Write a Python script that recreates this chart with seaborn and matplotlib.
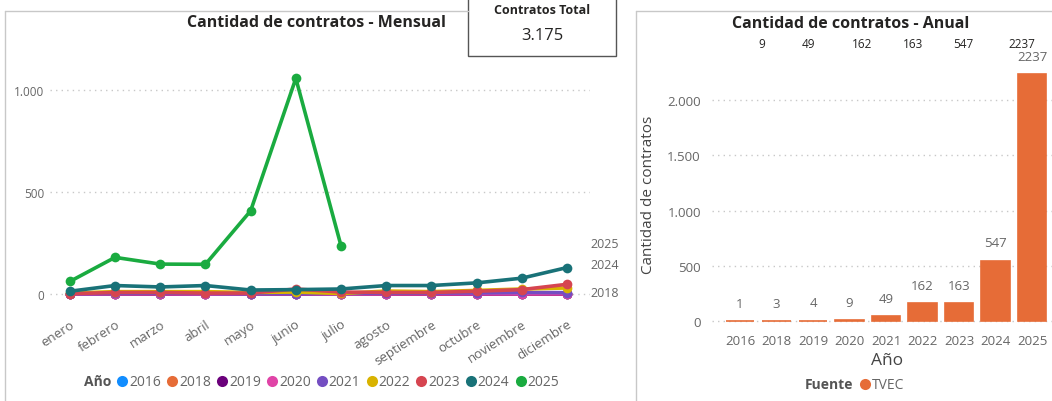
import numpy as np
import pandas as pd
import matplotlib
matplotlib.use("Agg")
import matplotlib.pyplot as plt
from matplotlib.patches import Rectangle
from matplotlib.lines import Line2D
from matplotlib.ticker import FuncFormatter
import seaborn as sns

# ---------------- data ----------------
months = ["enero", "febrero", "marzo", "abril", "mayo", "junio", "julio",
          "agosto", "septiembre", "octubre", "noviembre", "diciembre"]
years = ["2016", "2018", "2019", "2020", "2021", "2022", "2023", "2024", "2025"]

v2016 = [0, 0, 0, 0, 0, 0, 0, 0, 0, 1, 0, 0]
v2018 = [0, 0, 1, 0, 0, 0, 1, 0, 0, 0, 1, 0]
v2019 = [0, 1, 0, 0, 1, 0, 0, 1, 0, 0, 1, 0]
v2020 = [0, 1, 1, 0, 1, 1, 0, 1, 1, 1, 1, 1]
v2021 = [2, 3, 4, 3, 2, 2, 3, 4, 5, 6, 8, 7]
v2022 = [5, 12, 12, 12, 8, 10, 3, 15, 12, 18, 25, 30]
v2023 = [2, 8, 8, 5, 5, 25, 10, 8, 8, 14, 22, 48]
v2024 = [14, 42, 35, 42, 20, 22, 25, 42, 42, 55, 78, 130]
v2025 = [62, 180, 147, 146, 408, 1057, 237, None, None, None, None, None]

annual_years = ["2016", "2018", "2019", "2020", "2021", "2022", "2023", "2024", "2025"]
annual_values = [1, 3, 4, 9, 49, 162, 163, 547, 2237]
top_row_labels = ["9", "49", "162", "163", "547", "2237"]
total_label = "3.175"

colors = ["#118DFF", "#E66C37", "#6B007B", "#E044A7", "#744EC2",
          "#D9B300", "#D64550", "#197278", "#1AAB40"]
bar_color = "#E66C37"

# --------------- frames ---------------
series = [v2016, v2018, v2019, v2020, v2021, v2022, v2023, v2024, v2025]
rows = []
for y, vals in zip(years, series):
    for i, v in enumerate(vals):
        if v is not None:
            rows.append({"Año": y, "mes": i, "n": v})
df_m = pd.DataFrame(rows)
df_a = pd.DataFrame({"Año": annual_years, "n": annual_values})

# --------------- figure ---------------
sns.set_theme(style="white")
plt.rcParams["font.family"] = ["Open Sans", "DejaVu Sans"]
bold_family = ["Open Sans", "DejaVu Sans"]

W, H = 1052, 402
fig = plt.figure(figsize=(W / 100, H / 100), dpi=100)


def ax_px(l, t, r, b):
    return [l / W, 1 - b / H, (r - l) / W, (b - t) / H]


def fx(x):
    return x / W


def fy(y):
    return 1 - y / H


# panel borders
border = "#C8C8C8"
fig.add_artist(Line2D([fx(5), fx(5)], [fy(12), fy(402)], color=border, lw=1))
fig.add_artist(Line2D([fx(5), fx(468)], [fy(12), fy(12)], color=border, lw=1))
fig.add_artist(Line2D([fx(636), fx(636)], [fy(12), fy(402)], color=border, lw=1))
fig.add_artist(Line2D([fx(636), fx(1052)], [fy(12), fy(12)], color=border, lw=1))

gray = "#666666"
dark = "#252423"

# --------------- left: monthly line ---------------
ax1 = fig.add_axes(ax_px(50, 60, 590, 310))
palette = dict(zip(years, colors))
sns.lineplot(data=df_m, x="mes", y="n", hue="Año", hue_order=years,
             palette=palette, marker="o", markersize=7, markeredgewidth=0,
             linewidth=2.6, legend=False, ax=ax1)
ax1.set_xlim(-0.44, 11.51)
ax1.set_ylim(-73, 1152)
ax1.set_yticks([0, 500, 1000])
ax1.yaxis.set_major_formatter(FuncFormatter(lambda v, p: f"{int(v):,}".replace(",", ".")))
ax1.set_xticks(range(12))
ax1.set_xticklabels(months, rotation=33, ha="right", rotation_mode="anchor")
ax1.tick_params(axis="x", length=0, colors=gray, labelsize=9.5, pad=6)
ax1.tick_params(axis="y", length=0, colors=gray, labelsize=8.5, pad=4)
ax1.set_xlabel("")
ax1.set_ylabel("")
ax1.grid(axis="y", linestyle=(0, (1, 3)), color="#C8C8C8", lw=1)
for s in ax1.spines.values():
    s.set_visible(False)

fig.text(fx(316), fy(23), "Cantidad de contratos - Mensual", ha="center", va="center",
         fontsize=11.5, fontweight="bold", color=dark, family=bold_family)
for lab, yy in [("2025", 245), ("2024", 266), ("2018", 294)]:
    fig.text(fx(590), fy(yy), lab, ha="left", va="center", fontsize=9, color=gray)

handles = [Line2D([], [], linestyle="none")] + [
    Line2D([], [], linestyle="none", marker="o", markersize=8, markeredgewidth=0, color=c)
    for c in colors]
leg = fig.legend(handles, ["Año"] + years, loc="center", bbox_to_anchor=(fx(316), fy(383)),
                 ncol=10, frameon=False, fontsize=10, handlelength=0.6, handletextpad=0.2,
                 columnspacing=0.5, labelcolor=gray)
leg.get_texts()[0].set_fontweight("bold")
leg.get_texts()[0].set_color("#555555")

# card
fig.add_artist(Rectangle((fx(468), fy(57)), fx(616) - fx(468), fy(-5) - fy(57),
                         transform=fig.transFigure, facecolor="white",
                         edgecolor="#555555", lw=1))
fig.text(fx(542), fy(10), "Contratos Total", ha="center", va="center", fontsize=9,
         fontweight="bold", color=dark, family=bold_family)
fig.text(fx(542), fy(36), total_label, ha="center", va="center", fontsize=12, color=dark)

# --------------- right: annual bars ---------------
ax2 = fig.add_axes(ax_px(712, 60, 1062, 330))
sns.barplot(data=df_a, x="Año", y="n", color=bar_color, width=0.78, saturation=1,
            edgecolor=bar_color, linewidth=1.2, ax=ax2)
ax2.set_xlim(-0.767, 8.82)
ax2.set_ylim(-72, 2371)
ax2.set_yticks([0, 500, 1000, 1500, 2000])
ax2.yaxis.set_major_formatter(FuncFormatter(lambda v, p: f"{int(v):,}".replace(",", ".")))
ax2.tick_params(axis="both", length=0, colors=gray, labelsize=9.5)
ax2.tick_params(axis="y", pad=8)
ax2.grid(axis="y", linestyle=(0, (1, 3)), color="#C8C8C8", lw=1)
ax2.set_axisbelow(True)
for s in ax2.spines.values():
    s.set_visible(False)
ax2.set_xlabel("Año", fontsize=12.5, color="#444444", labelpad=4)
ax2.set_ylabel("Cantidad de contratos", fontsize=11, color="#444444", labelpad=8)
for c in ax2.containers:
    ax2.bar_label(c, labels=[str(v) for v in annual_values], padding=8,
                  fontsize=9.5, color=gray)

fig.text(fx(851), fy(24), "Cantidad de contratos - Anual", ha="center", va="center",
         fontsize=11.5, fontweight="bold", color=dark, family=bold_family)
for lab, xx in zip(top_row_labels, [762, 808, 862, 913, 963, 1022]):
    fig.text(fx(xx), fy(45), lab, ha="center", va="center", fontsize=8.5, color=dark)

leg2 = fig.legend([Line2D([], [], linestyle="none"),
                   Line2D([], [], linestyle="none", marker="o", markersize=8,
                          markeredgewidth=0, color=bar_color)],
                  ["Fuente", "TVEC"], loc="center", bbox_to_anchor=(fx(849), fy(386)),
                  ncol=2, frameon=False, fontsize=10, handlelength=0.6,
                  handletextpad=0.2, columnspacing=0.5, labelcolor=gray)
leg2.get_texts()[0].set_fontweight("bold")
leg2.get_texts()[0].set_color("#555555")

fig.savefig("out.png", dpi=100)
